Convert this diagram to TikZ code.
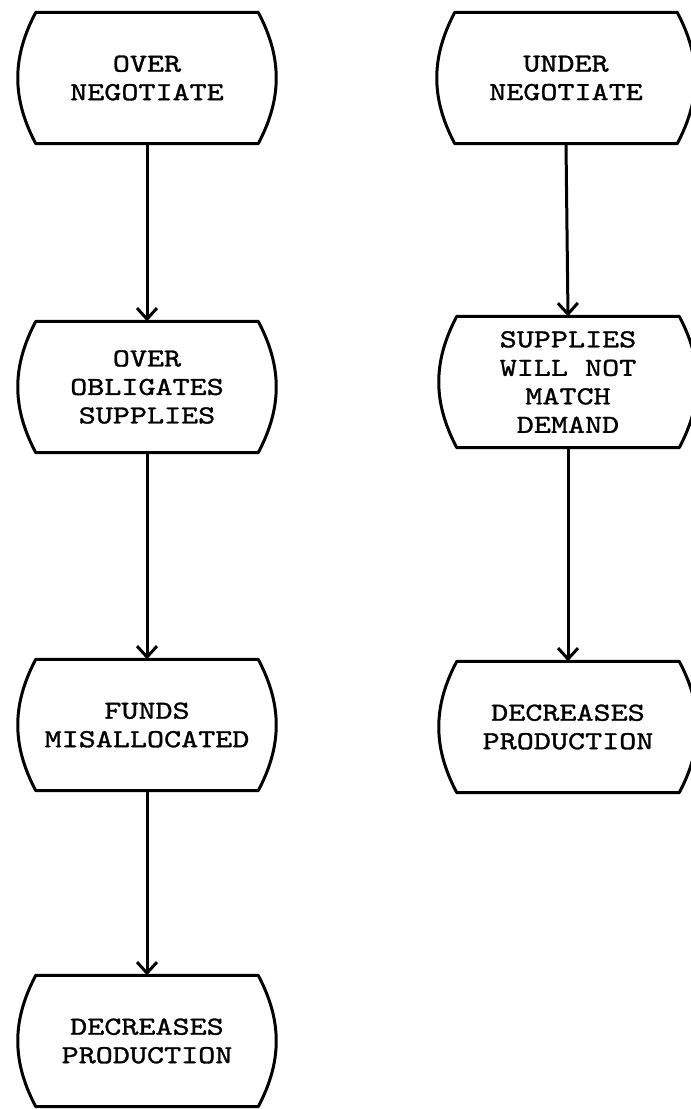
\documentclass[tikz,border=0pt]{standalone}
\usepackage{fontspec}
\newfontfamily\twfont{lmmono10-regular.otf}[FakeStretch=1.25,FakeBold=1.2]
\usetikzlibrary{arrows.meta}
\tikzset{
  fcbox/.style={shape=rectangle, draw=none, minimum width=222pt, minimum height=131pt,
    inner sep=0pt, align=center,
    font=\twfont\fontsize{26}{28.5}\selectfont},
  outline/.style={line width=3pt, line join=round, line cap=round},
  flow/.style={line width=3pt, -{Straight Barb[length=11pt,width=20pt,line width=3pt]}}
}
\begin{document}
\begin{tikzpicture}[x=1pt,y=-1pt]
\useasboundingbox (0,0) rectangle (691,1109);
\node[fcbox] (A1) at (147,78) {OVER\\NEGOTIATE};
\node[fcbox] (A2) at (147,387) {OVER\\OBLIGATES\\SUPPLIES};
\node[fcbox] (A3) at (147,725) {FUNDS\\MISALLOCATED};
\node[fcbox] (A4) at (147,1041) {DECREASES\\PRODUCTION};
\node[fcbox] (B1) at (566,78) {UNDER\\NEGOTIATE};
\node[fcbox] (B2) at (568,382) {SUPPLIES\\WILL NOT\\MATCH\\DEMAND};
\node[fcbox] (B3) at (568,727) {DECREASES\\PRODUCTION};
\foreach \n in {A1,A2,A3,A4,B1,B2,B3}{
  \draw[outline] (\n.north west) -- (\n.north east) to[out=-62,in=62] (\n.south east)
    -- (\n.south west) to[out=118,in=-118] cycle;
}
\draw[flow] (A1.south) -- (A2.north);
\draw[flow] (A2.south) -- (A3.north);
\draw[flow] (A3.south) -- (A4.north);
\draw[flow] (B1.south) -- (B2.north);
\draw[flow] (B2.south) -- (B3.north);
\end{tikzpicture}
\end{document}
